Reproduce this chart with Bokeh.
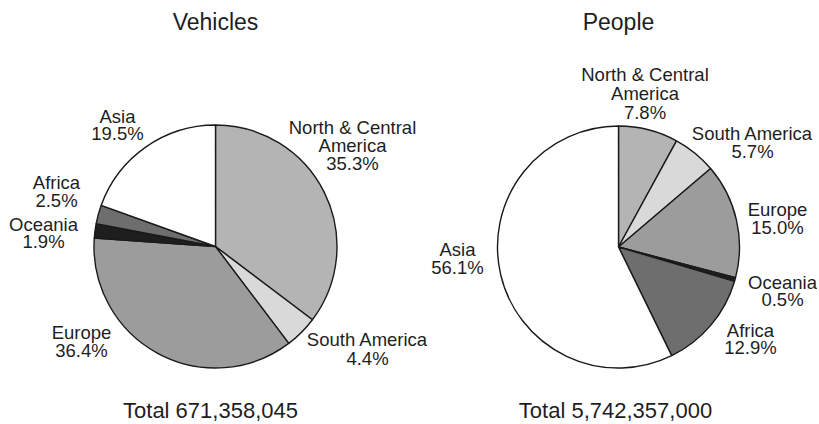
import numpy as np
from bokeh.plotting import figure
from bokeh.models import Range1d, ColumnDataSource
from bokeh.core.properties import value
from bokeh.embed import file_html
from bokeh.resources import INLINE

# ---------------- data ----------------
regions = ["North & Central America", "South America", "Europe", "Oceania", "Africa", "Asia"]
vehicle_share = [35.3, 4.4, 36.4, 1.9, 2.5, 19.5]
people_share = [7.8, 5.7, 15.0, 0.5, 12.9, 56.1]
titles = ["Vehicles", "People"]
totals = ["Total 671,358,045", "Total 5,742,357,000"]

# ---------------- styles / layout ----------------
colors = ["#b4b4b4", "#d9d9d9", "#9c9c9c", "#1e1e1e", "#6e6e6e", "#ffffff"]
name_lines = {
    "North & Central America": ["North & Central", "America"],
    "South America": ["South America"],
    "Europe": ["Europe"],
    "Oceania": ["Oceania"],
    "Africa": ["Africa"],
    "Asia": ["Asia"],
}
FONT = value("Liberation Sans")
TXT = "#1e1e1e"
W, H = 817, 422
OFF = 0  # page offset of the canvas

def X(sx):
    return sx - OFF

def Y(sy):
    return H + OFF - sy

# pie centres / radii in page pixels
pies = [
    dict(share=vehicle_share, cx=215, cy=246, r=121.5,
         # label centre x, first-line middle y, line spacing
         labels={"North & Central America": (352, 127, 18),
                  "South America": (367, 339, 19),
                  "Europe": (81, 331.5, 18.5),
                  "Oceania": (43, 223.5, 17),
                  "Africa": (56, 182, 18),
                  "Asia": (117, 116, 17)},
         title_x=215, total_x=210),
    dict(share=people_share, cx=618, cy=246.5, r=121,
         labels={"North & Central America": (644.5, 74, 19),
                 "South America": (752, 132.5, 18.5),
                 "Europe": (777, 208.5, 18),
                 "Oceania": (782, 281.5, 17),
                 "Africa": (750, 330, 17),
                 "Asia": (457, 248.5, 18)},
         title_x=618, total_x=615),
]

p = figure(width=W, height=H, x_range=Range1d(0, W), y_range=Range1d(0, H),
           output_backend="svg", toolbar_location=None, min_border=0,
           x_axis_type=None, y_axis_type=None)
p.grid.visible = False
p.outline_line_color = None
p.background_fill_color = "white"
p.border_fill_color = "white"

for i, pie in enumerate(pies):
    share = pie["share"]
    total = float(sum(share))
    cum = np.concatenate([[0.0], np.cumsum(share)])
    start = np.pi / 2 - 2 * np.pi * cum[:-1] / total
    end = np.pi / 2 - 2 * np.pi * cum[1:] / total
    src = ColumnDataSource(dict(start=start, end=end, color=colors, region=regions, share=share))
    p.wedge(x=X(pie["cx"]), y=Y(pie["cy"]), radius=pie["r"], start_angle="start",
            end_angle="end", direction="clock", fill_color="color",
            line_color="#1a1a1a", line_width=1.4, source=src)

    lx, ly, lt = [], [], []
    for reg, v in zip(regions, share):
        cx, y0, dy = pie["labels"][reg]
        lines = name_lines[reg] + [f"{v:.1f}%"]
        for k, ln in enumerate(lines):
            lx.append(X(cx))
            ly.append(Y(y0 + k * dy))
            lt.append(ln)
    p.text(x=lx, y=ly, text=lt, text_font=FONT, text_font_size="18.5px",
           text_align="center", text_baseline="middle", text_color=TXT)

    p.text(x=[X(pie["title_x"])], y=[Y(21.5)], text=[titles[i]], text_font=FONT,
           text_font_size="23px", text_align="center", text_baseline="middle",
           text_color=TXT)
    p.text(x=[X(pie["total_x"])], y=[Y(410)], text=[totals[i]], text_font=FONT,
           text_font_size="22px", text_align="center", text_baseline="middle",
           text_color=TXT)

open("out.html", "w").write(file_html(p, INLINE))
